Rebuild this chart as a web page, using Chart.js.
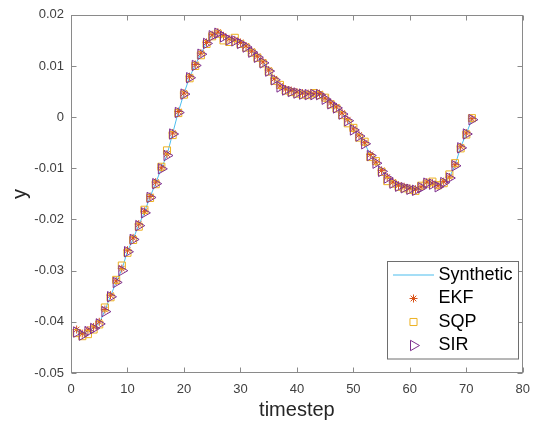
<!DOCTYPE html>
<html>
<head>
<meta charset="utf-8">
<script src="https://cdn.jsdelivr.net/npm/chart.js@4.4.0/dist/chart.umd.min.js"></script>
<style>
  body { margin: 0; background: #fff; }
</style>
</head>
<body>
<canvas id="myChart" width="539" height="430"></canvas>
<script>
// data, one value per timestep (1..71)
const timesteps = Array.from({ length: 71 }, (_, i) => i + 1);

const synthetic = [
  -0.0418, -0.0425, -0.0418, -0.0412, -0.0403, -0.0378, -0.0350, -0.0322, -0.0298, -0.0262,
  -0.0238, -0.0211, -0.0186, -0.0156, -0.0129, -0.0100, -0.0074, -0.0032, 0.0010, 0.0046,
  0.0078, 0.0102, 0.0124, 0.0145, 0.0160, 0.0165, 0.0158, 0.0152, 0.0150, 0.0145,
  0.0138, 0.0128, 0.0118, 0.0107, 0.0091, 0.0074, 0.0060, 0.0054, 0.0051, 0.0048,
  0.0046, 0.0045, 0.0045, 0.0045, 0.0036, 0.0027, 0.0019, 0.0007, -0.0006, -0.0024,
  -0.0036, -0.0051, -0.0074, -0.0089, -0.0105, -0.0118, -0.0128, -0.0134, -0.0137, -0.0140,
  -0.0142, -0.0137, -0.0128, -0.0130, -0.0135, -0.0127, -0.0118, -0.0094, -0.0059, -0.0032,
  -0.0004
];
const ekf = [
  -0.0415, -0.0423, -0.0416, -0.0410, -0.0400, -0.0376, -0.0348, -0.0320, -0.0296, -0.0260,
  -0.0236, -0.0209, -0.0184, -0.0155, -0.0127, -0.0099, -0.0072, -0.0031, 0.0011, 0.0047,
  0.0079, 0.0103, 0.0125, 0.0146, 0.0161, 0.0166, 0.0159, 0.0153, 0.0151, 0.0146,
  0.0139, 0.0129, 0.0119, 0.0108, 0.0092, 0.0075, 0.0061, 0.0055, 0.0052, 0.0049,
  0.0047, 0.0046, 0.0046, 0.0046, 0.0037, 0.0028, 0.0020, 0.0008, -0.0005, -0.0023,
  -0.0035, -0.0050, -0.0073, -0.0088, -0.0104, -0.0117, -0.0127, -0.0133, -0.0136, -0.0139,
  -0.0141, -0.0136, -0.0127, -0.0129, -0.0134, -0.0126, -0.0117, -0.0093, -0.0058, -0.0031,
  -0.0003
];
const sqp = [
  -0.0422, -0.0428, -0.0424, -0.0415, -0.0405, -0.0372, -0.0352, -0.0318, -0.0290, -0.0265,
  -0.0240, -0.0214, -0.0181, -0.0158, -0.0131, -0.0097, -0.0065, -0.0035, 0.0008, 0.0044,
  0.0076, 0.0100, 0.0121, 0.0143, 0.0158, 0.0163, 0.0150, 0.0147, 0.0155, 0.0143,
  0.0136, 0.0126, 0.0116, 0.0105, 0.0089, 0.0071, 0.0063, 0.0052, 0.0049, 0.0046,
  0.0044, 0.0043, 0.0047, 0.0043, 0.0038, 0.0025, 0.0017, 0.0004, -0.0012, -0.0021,
  -0.0040, -0.0048, -0.0078, -0.0086, -0.0107, -0.0125, -0.0130, -0.0136, -0.0139, -0.0142,
  -0.0144, -0.0134, -0.0130, -0.0126, -0.0133, -0.0129, -0.0112, -0.0090, -0.0061, -0.0034,
  -0.0002
];
const sir = [
  -0.0420, -0.0426, -0.0419, -0.0413, -0.0404, -0.0380, -0.0351, -0.0323, -0.0300, -0.0263,
  -0.0239, -0.0212, -0.0187, -0.0157, -0.0130, -0.0101, -0.0075, -0.0033, 0.0009, 0.0045,
  0.0077, 0.0101, 0.0123, 0.0144, 0.0159, 0.0164, 0.0157, 0.0151, 0.0149, 0.0144,
  0.0137, 0.0127, 0.0117, 0.0106, 0.0090, 0.0073, 0.0059, 0.0053, 0.0050, 0.0047,
  0.0045, 0.0044, 0.0044, 0.0044, 0.0035, 0.0026, 0.0018, 0.0006, -0.0007, -0.0025,
  -0.0037, -0.0052, -0.0075, -0.0090, -0.0106, -0.0119, -0.0129, -0.0135, -0.0138, -0.0141,
  -0.0143, -0.0138, -0.0129, -0.0131, -0.0136, -0.0128, -0.0119, -0.0095, -0.0060, -0.0033,
  -0.0005
];

const xTicks = [0, 10, 20, 30, 40, 50, 60, 70, 80];
const yTicks = [-0.05, -0.04, -0.03, -0.02, -0.01, 0, 0.01, 0.02];
const yTickLabels = ['-0.05', '-0.04', '-0.03', '-0.02', '-0.01', '0', '0.01', '0.02'];

const fontFamily = '"Liberation Sans", Arial, sans-serif';
const axisColor = '#8a8a8a';
const clear = 'rgba(0,0,0,0)';

function toPoints(vals) {
    return vals.map((v, i) => ({ x: timesteps[i], y: v }));
}

// MATLAB style box with inward ticks
const boxPlugin = {
    id: 'box',
    beforeDatasetsDraw(chart) {
        const { ctx, chartArea: a, scales } = chart;
        const L = Math.round(a.left) + 0.5, R = Math.round(a.right) - 0.5;
        const T = Math.round(a.top) + 0.5, B = Math.round(a.bottom) - 0.5;
        const len = 5;
        ctx.save();
        ctx.strokeStyle = axisColor;
        ctx.lineWidth = 1;
        ctx.strokeRect(L, T, R - L, B - T);
        ctx.beginPath();
        xTicks.forEach(v => {
            const px = Math.round(scales.x.getPixelForValue(v)) + 0.5;
            ctx.moveTo(px, B); ctx.lineTo(px, B - len);
            ctx.moveTo(px, T); ctx.lineTo(px, T + len);
        });
        yTicks.forEach(v => {
            const py = Math.round(scales.y.getPixelForValue(v)) + 0.5;
            ctx.moveTo(L, py); ctx.lineTo(L + len, py);
            ctx.moveTo(R, py); ctx.lineTo(R - len, py);
        });
        ctx.stroke();
        ctx.restore();
    }
};

// legend box inside the axes, lower right
const legendPlugin = {
    id: 'matlabLegend',
    afterDraw(chart) {
        const ctx = chart.ctx;
        const box = { x: 387.5, y: 261.5, w: 131, h: 97.5 };
        const rowY = [275, 298.5, 322, 345.5];
        ctx.save();
        ctx.fillStyle = '#fff';
        ctx.fillRect(box.x, box.y, box.w, box.h);
        ctx.strokeStyle = '#6e6e6e';
        ctx.lineWidth = 1;
        ctx.strokeRect(box.x, box.y, box.w, box.h);

        chart.data.datasets.forEach((ds, i) => {
            const y = rowY[i];
            if (ds.showLine) {
                ctx.strokeStyle = '#4DBEEE';
                ctx.lineWidth = 1.2;
                ctx.beginPath();
                ctx.moveTo(393, y);
                ctx.lineTo(434, y);
                ctx.stroke();
            } else {
                ctx.strokeStyle = ds.pointBorderColor;
                ctx.fillStyle = clear;
                ctx.lineWidth = 1;
                Chart.helpers.drawPoint(ctx, {
                    pointStyle: ds.pointStyle,
                    radius: ds.pointRadius,
                    rotation: ds.pointRotation || 0,
                    borderWidth: 1
                }, 413.5, y);
            }
            ctx.fillStyle = '#000';
            ctx.font = '18px ' + fontFamily;
            ctx.textBaseline = 'middle';
            ctx.textAlign = 'left';
            ctx.fillText(ds.label, 438.5, y);
        });
        ctx.restore();
    }
};

const ctx1 = document.getElementById('myChart').getContext('2d');

new Chart(ctx1, {
    type: 'line',
    data: {
        datasets: [
            {
                label: 'Synthetic',
                data: toPoints(synthetic),
                borderColor: '#4DBEEE',
                borderWidth: 1,
                pointRadius: 0,
                showLine: true,
                order: 4
            },
            {
                label: 'EKF',
                data: toPoints(ekf),
                showLine: false,
                pointStyle: 'star',
                pointRadius: 4,
                pointBorderColor: '#D95319',
                pointBackgroundColor: clear,
                pointBorderWidth: 1,
                order: 3
            },
            {
                label: 'SQP',
                data: toPoints(sqp),
                showLine: false,
                pointStyle: 'rect',
                pointRadius: 5,
                pointBorderColor: '#EDB120',
                pointBackgroundColor: clear,
                pointBorderWidth: 1,
                order: 2
            },
            {
                label: 'SIR',
                data: toPoints(sir),
                showLine: false,
                pointStyle: 'triangle',
                pointRotation: 90,
                pointRadius: 6,
                pointBorderColor: '#7E2F8E',
                pointBackgroundColor: clear,
                pointBorderWidth: 1,
                order: 1
            }
        ]
    },
    options: {
        responsive: false,
        animation: false,
        layout: { padding: { top: 14, right: 11, bottom: 0, left: 0 } },
        plugins: {
            legend: { display: false },
            tooltip: { enabled: false }
        },
        scales: {
            x: {
                type: 'linear',
                min: 0,
                max: 80,
                afterBuildTicks: s => { s.ticks = xTicks.map(v => ({ value: v })); },
                afterFit: s => { s.height = 57; },
                grid: { display: false, drawTicks: false },
                border: { display: false },
                ticks: {
                    autoSkip: false,
                    maxRotation: 0,
                    padding: 9,
                    color: '#404040',
                    font: { family: fontFamily, size: 13 }
                },
                title: {
                    display: true,
                    text: 'timestep',
                    color: '#262626',
                    padding: { top: 0, bottom: 8 },
                    font: { family: fontFamily, size: 20 }
                }
            },
            y: {
                type: 'linear',
                min: -0.05,
                max: 0.02,
                afterBuildTicks: s => { s.ticks = yTicks.map(v => ({ value: v })); },
                afterFit: s => { s.width = 71; },
                grid: { display: false, drawTicks: false },
                border: { display: false },
                ticks: {
                    autoSkip: false,
                    padding: 7,
                    color: '#404040',
                    font: { family: fontFamily, size: 13 },
                    callback: (value, index) => yTickLabels[index]
                },
                title: {
                    display: true,
                    text: 'y',
                    color: '#262626',
                    padding: { top: 8, bottom: 0 },
                    font: { family: fontFamily, size: 20 }
                }
            }
        }
    },
    plugins: [boxPlugin, legendPlugin]
});
</script>
</body>
</html>
